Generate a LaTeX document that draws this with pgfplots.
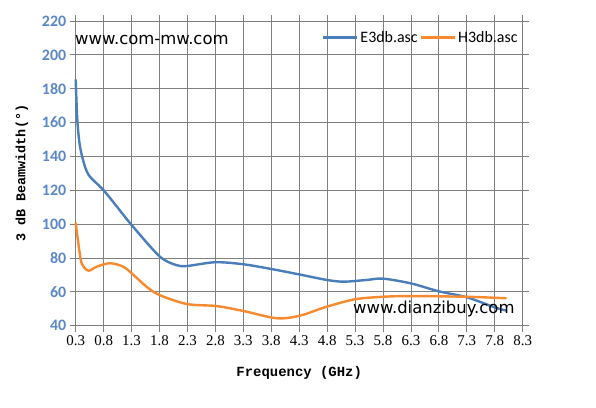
\documentclass[border=0pt]{standalone}
\usepackage{pgfplots}
\pgfplotsset{compat=1.18}
\usepackage{fontspec}
\newfontfamily\carlito{Carlito}
\newfontfamily\lserif{Liberation Serif}
\newfontfamily\lmono{Liberation Mono}
\newfontfamily\dejavu{DejaVu Sans}
\definecolor{eblue}{HTML}{4A7EBB}
\definecolor{horange}{HTML}{F7892E}
\definecolor{gridc}{HTML}{808080}
\definecolor{ticklab}{HTML}{5A87C6}
\begin{document}
\begin{tikzpicture}
\path[use as bounding box] (0,0) rectangle (596bp,408bp);
\begin{axis}[
  at={(75.7bp,82.3bp)}, anchor=south west,
  scale only axis, width=447bp, height=304.7bp,
  xmin=0.3, xmax=8.3, ymin=40, ymax=220,
  xtick={0.3,0.8,1.3,1.8,2.3,2.8,3.3,3.8,4.3,4.8,5.3,5.8,6.3,6.8,7.3,7.8,8.3},
  xticklabels={0.3,0.8,1.3,1.8,2.3,2.8,3.3,3.8,4.3,4.8,5.3,5.8,6.3,6.8,7.3,7.8,8.3},
  ytick={40,60,...,220},
  grid=major,
  major grid style={gridc, line width=0.9bp},
  axis line style={gridc, line width=0.9bp},
  tick style={gridc, line width=0.9bp},
  tick align=outside, major tick length=6bp,
  /pgf/number format/assume math mode=true,
  xticklabel style={font=\lserif\fontsize{15}{15}\selectfont, text=black},
  yticklabel style={font=\carlito\bfseries\fontsize{16}{16}\selectfont, text=ticklab},
  xlabel={Frequency~(GHz)},
  ylabel={3 dB Beamwidth(°)},
  xlabel style={font=\lmono\bfseries\fontsize{14}{14}\selectfont, at={(axis description cs:0.5,0)}, anchor=center, yshift=-47.3bp},
  ylabel style={font=\lmono\bfseries\fontsize{13.5}{13.5}\selectfont, at={(axis description cs:-0.1201,0.5)}, anchor=center},
  legend columns=2,
  legend style={draw=none, fill=none, at={(1,1)}, anchor=north east, yshift=-6bp,
    font=\carlito\fontsize{16}{16}\selectfont,
    /tikz/every even column/.append style={column sep=0bp}},
  legend image code/.code={\draw[#1] (0bp,0bp) -- (34bp,0bp);},
  clip=false,
]
\addplot[eblue, line width=2.4bp, smooth, tension=0.5] coordinates {
(0.3,185.5) (0.329,161.5) (0.377,145.8) (0.466,134) (0.556,128) (0.794,120.2)
(1.06,109.4) (1.3,99.5) (1.8,81) (2.1,75.8) (2.3,75.3) (2.8,77.5) (3.3,76.3)
(3.8,73.5) (4.3,70.3) (4.8,67) (5.1,66) (5.5,67) (5.8,67.8) (6.3,65) (6.8,60.3)
(7.3,56.8) (7.8,50.8) (8.0,49)
};
\addlegendentry{E3db.asc}
\addplot[horange, line width=2.4bp, smooth, tension=0.5] coordinates {
(0.3,100.9) (0.347,88.7) (0.407,76.9) (0.526,72.5) (0.676,74.9) (0.914,76.9)
(1.15,74.9) (1.3,71) (1.57,63) (1.8,58.1) (2.29,52.8) (2.82,51.6) (3.3,48.7)
(3.9,44.4) (4.31,45.9) (4.79,51.2) (5.3,55.6) (5.8,57.1) (6.31,57.5) (7.3,57.1)
(8.01,56.2)
};
\addlegendentry{H3db.asc}
\end{axis}
\node[anchor=west, inner sep=0, font=\dejavu\fontsize{16.5}{16.5}\selectfont] at (75bp,368bp) {www.com-mw.com};
\node[anchor=west, inner sep=0, font=\dejavu\fontsize{16.5}{16.5}\selectfont] at (353bp,99bp) {www.dianzibuy.com};
\end{tikzpicture}
\end{document}
